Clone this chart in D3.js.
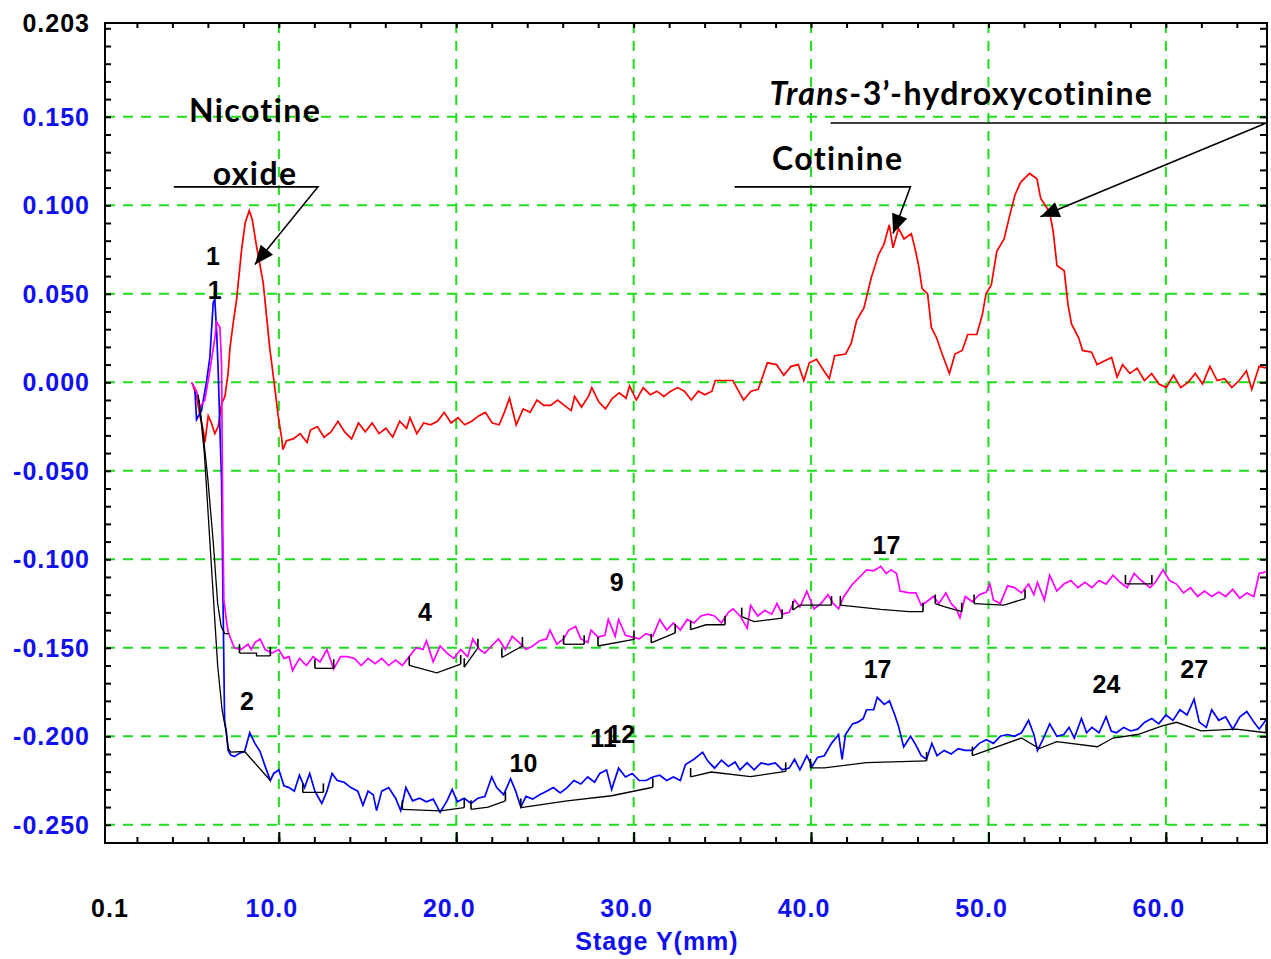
<!DOCTYPE html>
<html>
<head>
<meta charset="utf-8">
<script src="https://cdn.jsdelivr.net/npm/d3@7"></script>
<style>
  body { margin: 0; background: #fff; }
  svg { display: block; }
</style>
</head>
<body>
<script>
var width = 1271;
var height = 959;
var gridColor = "#1edc1e";
var labelBlue = "#1010ee";

// axis values
var yGridValues = [0.15, 0.10, 0.05, 0.0, -0.05, -0.10, -0.15, -0.20, -0.25];
var yLabelValues = [0.203, 0.15, 0.10, 0.05, 0.0, -0.05, -0.10, -0.15, -0.20, -0.25];
var yLabelText = ["0.203", "0.150", "0.100", "0.050", "0.000", "-0.050", "-0.100", "-0.150", "-0.200", "-0.250"];
var xGridValues = [10, 20, 30, 40, 50, 60];
var xLabelValues = [0.2, 10, 20, 30, 40, 50, 60];
var xLabelText = ["0.1", "10.0", "20.0", "30.0", "40.0", "50.0", "60.0"];

// traces [Stage Y (mm), absorbance]
var redTrace = [[5.1,0],[5.36,-0.008],[5.55,-0.019],[5.74,-0.027],[5.83,-0.034],[6.02,-0.019],[6.2,-0.023],[6.39,-0.029],[6.58,-0.025],[6.77,-0.012],[6.96,-0.008],[7.14,0.005],[7.24,0.019],[7.42,0.033],[7.62,0.047],[7.9,0.075],[8.1,0.09],[8.33,0.097],[8.5,0.092],[8.74,0.077],[9.12,0.056],[9.49,0.019],[9.77,-0.003],[9.96,-0.019],[10.15,-0.031],[10.23,-0.038],[10.43,-0.033],[10.81,-0.032],[11.2,-0.029],[11.59,-0.034],[11.78,-0.027],[12.17,-0.025],[12.55,-0.031],[12.94,-0.028],[13.33,-0.022],[13.71,-0.028],[14.1,-0.032],[14.49,-0.023],[14.87,-0.028],[15.26,-0.023],[15.65,-0.029],[16.03,-0.026],[16.42,-0.031],[16.81,-0.022],[17.2,-0.026],[17.39,-0.020],[17.78,-0.029],[18.16,-0.023],[18.55,-0.024],[18.94,-0.022],[19.32,-0.017],[19.71,-0.023],[20.1,-0.020],[20.48,-0.024],[20.87,-0.022],[21.26,-0.019],[21.64,-0.017],[22.03,-0.023],[22.42,-0.024],[22.71,-0.017],[23.0,-0.009],[23.38,-0.024],[23.77,-0.015],[24.16,-0.017],[24.55,-0.010],[24.93,-0.013],[25.32,-0.013],[25.71,-0.010],[26.09,-0.013],[26.48,-0.016],[26.67,-0.008],[27.06,-0.014],[27.45,-0.008],[27.64,-0.003],[28.03,-0.011],[28.41,-0.015],[28.8,-0.009],[29.19,-0.006],[29.57,-0.009],[29.77,-0.002],[30.15,-0.010],[30.54,-0.003],[30.93,-0.007],[31.31,-0.005],[31.7,-0.008],[32.09,-0.005],[32.48,-0.003],[32.86,-0.005],[33.25,-0.010],[33.64,-0.005],[34.02,-0.007],[34.41,-0.005],[34.6,0.001],[34.97,0.001],[35.59,0.001],[36.0,-0.0065],[36.2,-0.010],[36.61,-0.005],[37.02,-0.004],[37.33,0.005],[37.54,0.011],[38.05,0.010],[38.46,0.004],[38.87,0.009],[39.28,0.010],[39.59,0.001],[39.9,0.011],[40.31,0.013],[40.72,0.0065],[41.03,0.002],[41.33,0.015],[41.95,0.016],[42.26,0.022],[42.57,0.035],[42.98,0.042],[43.39,0.059],[43.8,0.072],[44.11,0.078],[44.41,0.089],[44.62,0.076],[44.93,0.087],[45.24,0.081],[45.65,0.084],[45.85,0.076],[46.06,0.066],[46.26,0.053],[46.57,0.050],[46.78,0.031],[47.08,0.025],[47.39,0.016],[47.8,0.005],[48.11,0.016],[48.52,0.018],[48.83,0.027],[49.34,0.027],[49.65,0.038],[49.86,0.050],[50.16,0.055],[50.47,0.074],[50.88,0.081],[51.19,0.094],[51.5,0.106],[51.81,0.113],[52.32,0.118],[52.73,0.115],[52.94,0.104],[53.45,0.096],[53.65,0.085],[53.86,0.066],[54.27,0.063],[54.48,0.044],[54.68,0.033],[55.09,0.025],[55.3,0.018],[55.81,0.017],[56.12,0.010],[56.53,0.012],[56.94,0.014],[57.25,0.003],[57.56,0.010],[57.97,0.005],[58.38,0.008],[58.79,0.001],[59.2,0.005],[59.61,-0.001],[60.02,-0.003],[60.43,0.004],[60.84,-0.003],[61.25,0],[61.66,0.005],[62.07,-0.001],[62.48,0.009],[62.89,0.001],[63.31,0.002],[63.72,-0.003],[64.13,0.001],[64.54,0.0065],[64.84,-0.004],[65.26,0.009],[65.7,0.008]];

var magentaTrace = [[5.08,0],[5.36,-0.005],[5.55,-0.014],[5.83,-0.010],[6.11,0.0065],[6.39,0.025],[6.49,0.034],[6.68,0.031],[6.77,0.010],[6.8,-0.03],[6.84,-0.08],[6.9,-0.123],[7.05,-0.135],[7.14,-0.141],[7.29,-0.145],[7.49,-0.150],[7.87,-0.151],[8.26,-0.148],[8.45,-0.151],[8.65,-0.147],[8.94,-0.145],[9.23,-0.151],[9.61,-0.153],[10.0,-0.151],[10.29,-0.156],[10.58,-0.155],[10.77,-0.163],[11.16,-0.156],[11.55,-0.160],[11.93,-0.155],[12.32,-0.158],[12.71,-0.151],[13.09,-0.162],[13.48,-0.155],[13.87,-0.155],[14.26,-0.156],[14.64,-0.160],[15.03,-0.156],[15.42,-0.159],[15.8,-0.156],[16.19,-0.160],[16.58,-0.157],[16.96,-0.160],[17.35,-0.155],[17.74,-0.150],[18.12,-0.151],[18.32,-0.146],[18.7,-0.158],[19.09,-0.149],[19.48,-0.153],[19.86,-0.156],[20.25,-0.151],[20.64,-0.155],[20.93,-0.145],[21.32,-0.151],[21.61,-0.153],[21.99,-0.149],[22.38,-0.145],[22.77,-0.151],[23.15,-0.1435],[23.54,-0.147],[23.93,-0.151],[24.31,-0.149],[24.7,-0.146],[25.09,-0.145],[25.28,-0.140],[25.67,-0.148],[26.05,-0.145],[26.34,-0.140],[26.73,-0.138],[27.02,-0.145],[27.41,-0.147],[27.6,-0.140],[27.99,-0.144],[28.38,-0.143],[28.57,-0.134],[28.96,-0.1435],[29.15,-0.134],[29.54,-0.143],[29.92,-0.144],[30.31,-0.145],[30.7,-0.142],[31.08,-0.1435],[31.47,-0.134],[31.86,-0.140],[32.24,-0.136],[32.63,-0.140],[33.02,-0.134],[33.4,-0.136],[33.79,-0.132],[34.18,-0.131],[34.56,-0.132],[34.95,-0.136],[35.34,-0.130],[35.6,-0.128],[36.0,-0.132],[36.4,-0.139],[36.59,-0.126],[36.99,-0.132],[37.39,-0.129],[37.78,-0.131],[38.08,-0.125],[38.37,-0.131],[38.77,-0.130],[39.07,-0.123],[39.37,-0.127],[39.76,-0.118],[40.16,-0.128],[40.56,-0.125],[40.95,-0.120],[41.25,-0.125],[41.55,-0.128],[41.85,-0.121],[42.34,-0.114],[42.74,-0.110],[43.13,-0.106],[43.53,-0.1065],[43.93,-0.104],[44.23,-0.108],[44.52,-0.106],[44.82,-0.108],[45.02,-0.118],[45.52,-0.119],[45.91,-0.119],[46.21,-0.126],[46.51,-0.124],[46.9,-0.121],[47.2,-0.125],[47.6,-0.119],[47.9,-0.125],[48.19,-0.128],[48.39,-0.133],[48.69,-0.121],[49.09,-0.124],[49.48,-0.120],[49.88,-0.1185],[50.08,-0.114],[50.28,-0.123],[50.67,-0.125],[51.07,-0.115],[51.47,-0.116],[51.86,-0.119],[52.26,-0.114],[52.56,-0.120],[52.76,-0.113],[53.15,-0.123],[53.45,-0.109],[53.85,-0.118],[54.25,-0.114],[54.64,-0.112],[55.04,-0.116],[55.44,-0.113],[55.83,-0.116],[56.23,-0.112],[56.63,-0.114],[57.02,-0.109],[57.42,-0.113],[57.82,-0.116],[58.21,-0.108],[58.61,-0.112],[59.11,-0.116],[59.41,-0.113],[59.84,-0.106],[60.2,-0.112],[60.6,-0.114],[60.99,-0.119],[61.39,-0.116],[61.79,-0.121],[62.18,-0.118],[62.58,-0.121],[62.98,-0.1185],[63.37,-0.121],[63.77,-0.117],[64.17,-0.122],[64.56,-0.119],[64.96,-0.121],[65.26,-0.108],[65.7,-0.107]];

var blueTrace = [[5.27,-0.005],[5.36,-0.021],[5.64,-0.016],[5.93,0.001],[6.11,0.014],[6.3,0.045],[6.39,0.047],[6.49,0.029],[6.58,0.0065],[6.68,-0.027],[6.77,-0.055],[6.85,-0.12],[6.94,-0.191],[7.05,-0.198],[7.14,-0.208],[7.29,-0.2106],[7.49,-0.2115],[7.78,-0.2096],[8.07,-0.2086],[8.36,-0.198],[8.65,-0.204],[8.94,-0.2086],[9.23,-0.217],[9.52,-0.225],[9.71,-0.221],[10.0,-0.219],[10.29,-0.228],[10.58,-0.229],[10.87,-0.231],[11.16,-0.222],[11.45,-0.229],[11.74,-0.221],[12.03,-0.231],[12.42,-0.238],[12.71,-0.231],[13.0,-0.221],[13.29,-0.225],[13.68,-0.226],[14.06,-0.229],[14.45,-0.231],[14.74,-0.239],[15.03,-0.231],[15.32,-0.233],[15.51,-0.242],[15.8,-0.231],[16.19,-0.229],[16.58,-0.235],[16.87,-0.242],[17.16,-0.229],[17.54,-0.2365],[17.93,-0.235],[18.32,-0.237],[18.7,-0.2355],[19.09,-0.243],[19.48,-0.2365],[19.77,-0.230],[20.06,-0.237],[20.45,-0.235],[20.83,-0.238],[21.22,-0.235],[21.61,-0.234],[22.0,-0.223],[22.28,-0.229],[22.67,-0.233],[23.06,-0.224],[23.35,-0.231],[23.64,-0.240],[23.93,-0.234],[24.31,-0.2355],[24.7,-0.233],[25.09,-0.231],[25.47,-0.229],[25.86,-0.232],[26.25,-0.229],[26.63,-0.225],[27.02,-0.227],[27.41,-0.223],[27.8,-0.226],[28.09,-0.221],[28.47,-0.219],[28.76,-0.230],[29.15,-0.218],[29.54,-0.223],[29.92,-0.221],[30.31,-0.225],[30.7,-0.225],[31.08,-0.223],[31.47,-0.222],[31.86,-0.225],[32.24,-0.223],[32.63,-0.225],[32.92,-0.216],[33.4,-0.213],[33.89,-0.209],[34.18,-0.214],[34.56,-0.218],[34.95,-0.2135],[35.34,-0.217],[35.72,-0.2145],[35.99,-0.219],[36.39,-0.215],[36.79,-0.219],[37.18,-0.215],[37.58,-0.216],[37.98,-0.215],[38.37,-0.219],[38.77,-0.218],[39.07,-0.213],[39.37,-0.219],[39.76,-0.211],[40.06,-0.217],[40.36,-0.212],[40.75,-0.211],[41.15,-0.204],[41.55,-0.199],[41.75,-0.213],[41.94,-0.199],[42.34,-0.193],[42.64,-0.192],[42.94,-0.190],[43.13,-0.185],[43.53,-0.185],[43.73,-0.178],[44.13,-0.182],[44.42,-0.180],[44.72,-0.188],[44.92,-0.194],[45.22,-0.206],[45.61,-0.200],[45.91,-0.205],[46.21,-0.211],[46.51,-0.213],[46.81,-0.204],[47.1,-0.211],[47.5,-0.208],[47.9,-0.210],[48.29,-0.207],[48.69,-0.208],[49.09,-0.208],[49.48,-0.204],[49.88,-0.202],[50.28,-0.204],[50.67,-0.200],[51.07,-0.199],[51.47,-0.200],[51.86,-0.198],[52.26,-0.191],[52.56,-0.199],[52.76,-0.208],[53.06,-0.202],[53.45,-0.193],[53.85,-0.200],[54.25,-0.199],[54.54,-0.195],[54.84,-0.201],[55.24,-0.190],[55.53,-0.198],[55.83,-0.195],[56.23,-0.198],[56.63,-0.189],[56.92,-0.197],[57.22,-0.198],[57.62,-0.195],[58.02,-0.197],[58.41,-0.196],[58.81,-0.192],[59.21,-0.190],[59.6,-0.193],[60.0,-0.188],[60.4,-0.191],[60.79,-0.185],[61.19,-0.188],[61.59,-0.179],[61.88,-0.192],[62.28,-0.195],[62.58,-0.185],[62.98,-0.191],[63.37,-0.189],[63.77,-0.196],[64.17,-0.189],[64.56,-0.186],[64.96,-0.192],[65.26,-0.196],[65.7,-0.190]];

// baseline segments (black)
var magentaBase = [
  [[5.45,-0.007],[5.75,-0.031],[6.0,-0.055],[6.3,-0.09],[6.55,-0.125],[6.75,-0.138],[6.95,-0.142],[7.2,-0.142]],
  [[7.78,-0.153],[8.74,-0.153],[8.74,-0.1546],[9.52,-0.1546]],
  [[12.03,-0.1616],[13.09,-0.1616]],
  [[17.35,-0.160],[18.9,-0.1642],[20.25,-0.1592]],
  [[20.45,-0.161],[21.22,-0.150]],
  [[22.57,-0.1555],[23.73,-0.149]],
  [[26.05,-0.148],[27.21,-0.148]],
  [[27.99,-0.149],[30.02,-0.1453]],
  [[30.99,-0.1472],[32.34,-0.1416]],
  [[33.21,-0.1398],[34.08,-0.137],[35.15,-0.137]],
  [[36.09,-0.1324],[36.79,-0.1352],[38.37,-0.1333]],
  [[38.97,-0.1287],[39.37,-0.1259],[41.15,-0.1259]],
  [[41.65,-0.1259],[43.93,-0.1283],[45.52,-0.1296],[46.31,-0.1296]],
  [[47.0,-0.125],[47.5,-0.1268],[48.49,-0.1296]],
  [[49.19,-0.125],[50.87,-0.1259],[52.06,-0.1222]],
  [[57.72,-0.1139],[59.21,-0.1139]]
];
var blueBase = [
  [[5.5,-0.01],[5.8,-0.04],[6.05,-0.08],[6.3,-0.12],[6.55,-0.16],[6.8,-0.185],[7.0,-0.196],[7.15,-0.207],[7.3,-0.209],[8.07,-0.2086],[9.52,-0.225]],
  [[11.35,-0.2317],[12.51,-0.2317]],
  [[16.96,-0.2413],[19.09,-0.2422],[20.45,-0.2403]],
  [[20.83,-0.2413],[21.8,-0.24],[22.77,-0.2365]],
  [[23.64,-0.2403],[26.25,-0.2365],[28.76,-0.2336],[31.08,-0.2288]],
  [[33.21,-0.223],[34.37,-0.2202],[36.59,-0.2228],[38.57,-0.2198]],
  [[39.96,-0.2178],[40.75,-0.2178],[43.13,-0.2149],[46.51,-0.2139]],
  [[49.09,-0.2109],[51.86,-0.201],[52.86,-0.2069],[53.85,-0.203],[56.13,-0.2059],[57.02,-0.201],[58.41,-0.199],[59.8,-0.1941],[60.6,-0.1921],[61.98,-0.197],[63.97,-0.196],[65.65,-0.198]]
];

// peak numbers: text, Stage Y, absorbance at the text baseline
var peakText = ["1", "1", "2", "4", "9", "17", "17", "10", "11", "12", "24", "27"];
var peakX = [6.28, 6.39, 8.2, 18.23, 29.04, 44.25, 43.75, 23.79, 28.3, 29.3, 56.65, 61.6];
var peakY = [0.0665, 0.0473, -0.1853, -0.1346, -0.1177, -0.0969, -0.1668, -0.2203, -0.2062, -0.2039, -0.1758, -0.1668];

var svg = d3.select("body").append("svg")
    .attr("width", width)
    .attr("height", height);

svg.append("rect")
    .attr("x", 0).attr("y", 0)
    .attr("width", width).attr("height", height)
    .attr("fill", "#fff");

var plotLeft = 105, plotRight = 1267, plotTop = 23, plotBottom = 843;

var x = d3.scaleLinear().domain([0.2, 65.7]).range([plotLeft, plotRight]);
var y = d3.scaleLinear().domain([-0.2603, 0.203]).range([plotBottom, plotTop]);

svg.append("clipPath").attr("id", "plotclip")
  .append("rect")
    .attr("x", plotLeft).attr("y", plotTop)
    .attr("width", plotRight - plotLeft).attr("height", plotBottom - plotTop);

// grid
svg.append("g").selectAll("line").data(yGridValues).join("line")
    .attr("x1", plotLeft).attr("x2", plotRight)
    .attr("y1", function(d) { return y(d); })
    .attr("y2", function(d) { return y(d); })
    .attr("stroke", gridColor).attr("stroke-width", 2)
    .attr("stroke-dasharray", "10,8");
svg.append("g").selectAll("line").data(xGridValues).join("line")
    .attr("y1", plotBottom).attr("y2", plotTop)
    .attr("x1", function(d) { return x(d); })
    .attr("x2", function(d) { return x(d); })
    .attr("stroke", gridColor).attr("stroke-width", 2)
    .attr("stroke-dasharray", "10,8");

// traces
var line = d3.line()
    .x(function(d) { return x(d[0]); })
    .y(function(d) { return y(d[1]); });

var traces = svg.append("g").attr("clip-path", "url(#plotclip)");

traces.append("path").datum(redTrace)
    .attr("d", line).attr("fill", "none")
    .attr("stroke", "#ff0000").attr("stroke-width", 1.7);
traces.append("path").datum(blueTrace)
    .attr("d", line).attr("fill", "none")
    .attr("stroke", "#0000ff").attr("stroke-width", 1.7);
traces.append("path").datum(magentaTrace)
    .attr("d", line).attr("fill", "none")
    .attr("stroke", "#ff00ff").attr("stroke-width", 1.7);

// baselines with small marks at their nodes
var drawBase = function(segments) {
    var g = traces.append("g");
    g.selectAll("path").data(segments).join("path")
        .attr("d", line).attr("fill", "none")
        .attr("stroke", "#000").attr("stroke-width", 1.3);
    var ends = [];
    segments.forEach(function(seg, i) {
        if (i === 0) return;
        ends.push(seg[0]);
        ends.push(seg[seg.length - 1]);
    });
    g.selectAll("line").data(ends).join("line")
        .attr("x1", function(d) { return x(d[0]); })
        .attr("x2", function(d) { return x(d[0]); })
        .attr("y1", function(d) { return y(d[1]); })
        .attr("y2", function(d) { return y(d[1]) - 9; })
        .attr("stroke", "#000").attr("stroke-width", 1.6);
};
drawBase(magentaBase);
drawBase(blueBase);

// frame
svg.append("rect")
    .attr("x", plotLeft).attr("y", plotTop)
    .attr("width", plotRight - plotLeft).attr("height", plotBottom - plotTop)
    .attr("fill", "none").attr("stroke", "#000").attr("stroke-width", 2);

// minor ticks, all pointing inward
var yMinor = d3.range(-26, 21).map(function(i) { return i / 100; });
var xMinor = d3.range(2, 66, 2);

var tickStyle = function(g) {
    g.select(".domain").remove();
    g.selectAll(".tick line").attr("stroke", "#000").attr("stroke-width", 2);
    g.selectAll(".tick text").remove();
};
svg.append("g").attr("transform", "translate(" + plotLeft + ",0)")
    .call(d3.axisRight(y).tickValues(yMinor).tickSize(6)).call(tickStyle);
svg.append("g").attr("transform", "translate(" + plotRight + ",0)")
    .call(d3.axisLeft(y).tickValues(yMinor).tickSize(7)).call(tickStyle);
svg.append("g").attr("transform", "translate(0," + plotBottom + ")")
    .call(d3.axisTop(x).tickValues(xMinor).tickSize(6)).call(tickStyle);
svg.append("g").attr("transform", "translate(0," + plotBottom + ")")
    .call(d3.axisTop(x).tickValues(xGridValues).tickSize(11)).call(tickStyle);
svg.append("g").attr("transform", "translate(0," + plotTop + ")")
    .call(d3.axisBottom(x).tickValues(xMinor).tickSize(5)).call(tickStyle);

// tick labels
var axisFont = "'Liberation Sans', Arial, sans-serif";
svg.append("g").selectAll("text").data(yLabelValues).join("text")
    .attr("x", 90)
    .attr("y", function(d) { return y(d) + 9; })
    .attr("text-anchor", "end")
    .attr("font-family", axisFont).attr("font-weight", "bold")
    .attr("font-size", 25).attr("letter-spacing", 1)
    .attr("fill", function(d, i) { return i === 0 ? "#000" : labelBlue; })
    .text(function(d, i) { return yLabelText[i]; });

svg.append("g").selectAll("text").data(xLabelValues).join("text")
    .attr("x", function(d, i) { return x(d) + (i === 0 ? 5 : -7); })
    .attr("y", 917)
    .attr("text-anchor", "middle")
    .attr("font-family", axisFont).attr("font-weight", "bold")
    .attr("font-size", 25).attr("letter-spacing", 1)
    .attr("fill", function(d, i) { return i === 0 ? "#000" : labelBlue; })
    .text(function(d, i) { return xLabelText[i]; });

svg.append("text")
    .attr("x", 657).attr("y", 950)
    .attr("text-anchor", "middle")
    .attr("font-family", axisFont).attr("font-weight", "bold")
    .attr("font-size", 25).attr("letter-spacing", 1)
    .attr("fill", labelBlue)
    .text("Stage Y(mm)");

// peak numbers
svg.append("g").selectAll("text").data(peakText).join("text")
    .attr("x", function(d, i) { return x(peakX[i]); })
    .attr("y", function(d, i) { return y(peakY[i]); })
    .attr("text-anchor", "middle")
    .attr("font-family", axisFont).attr("font-weight", "bold")
    .attr("font-size", 25)
    .attr("fill", "#000")
    .text(function(d) { return d; });

// annotations
var annoFont = "Lato, 'Open Sans', sans-serif";
var arrow = function(pts) {
    var p = pts.map(function(d) { return [x(d[0]), y(d[1])]; });
    svg.append("path")
        .attr("d", d3.line()(p))
        .attr("fill", "none").attr("stroke", "#000").attr("stroke-width", 1.6);
    var a = p[p.length - 2], b = p[p.length - 1];
    var ang = Math.atan2(b[1] - a[1], b[0] - a[0]);
    var len = 19, half = 8;
    var bx = b[0] - len * Math.cos(ang), by = b[1] - len * Math.sin(ang);
    var head = [b,
        [bx - half * Math.sin(ang), by + half * Math.cos(ang)],
        [bx + half * Math.sin(ang), by - half * Math.cos(ang)]];
    svg.append("path")
        .attr("d", d3.line()(head) + "Z")
        .attr("fill", "#000");
};
arrow([[4.08, 0.1104], [12.2, 0.1104], [8.65, 0.0665]]);
arrow([[35.69, 0.1104], [45.6, 0.1104], [44.62, 0.0841]]);
arrow([[41.1, 0.1465], [65.66, 0.1465], [52.93, 0.0935]]);

var anno = svg.append("g")
    .attr("font-family", annoFont).attr("font-weight", "bold")
    .attr("font-size", 32).attr("letter-spacing", 1.4).attr("fill", "#000");
anno.append("text").attr("x", x(8.66)).attr("y", y(0.147))
    .attr("text-anchor", "middle").text("Nicotine");
anno.append("text").attr("x", x(8.66)).attr("y", y(0.1115))
    .attr("text-anchor", "middle").text("oxide");
anno.append("text").attr("x", x(41.5)).attr("y", y(0.12))
    .attr("text-anchor", "middle").text("Cotinine");
var trans = anno.append("text").attr("x", x(37.66)).attr("y", y(0.1566));
trans.append("tspan").attr("font-style", "italic").text("Trans");
trans.append("tspan").text("-3\u2019-hydroxycotinine");
</script>
</body>
</html>
